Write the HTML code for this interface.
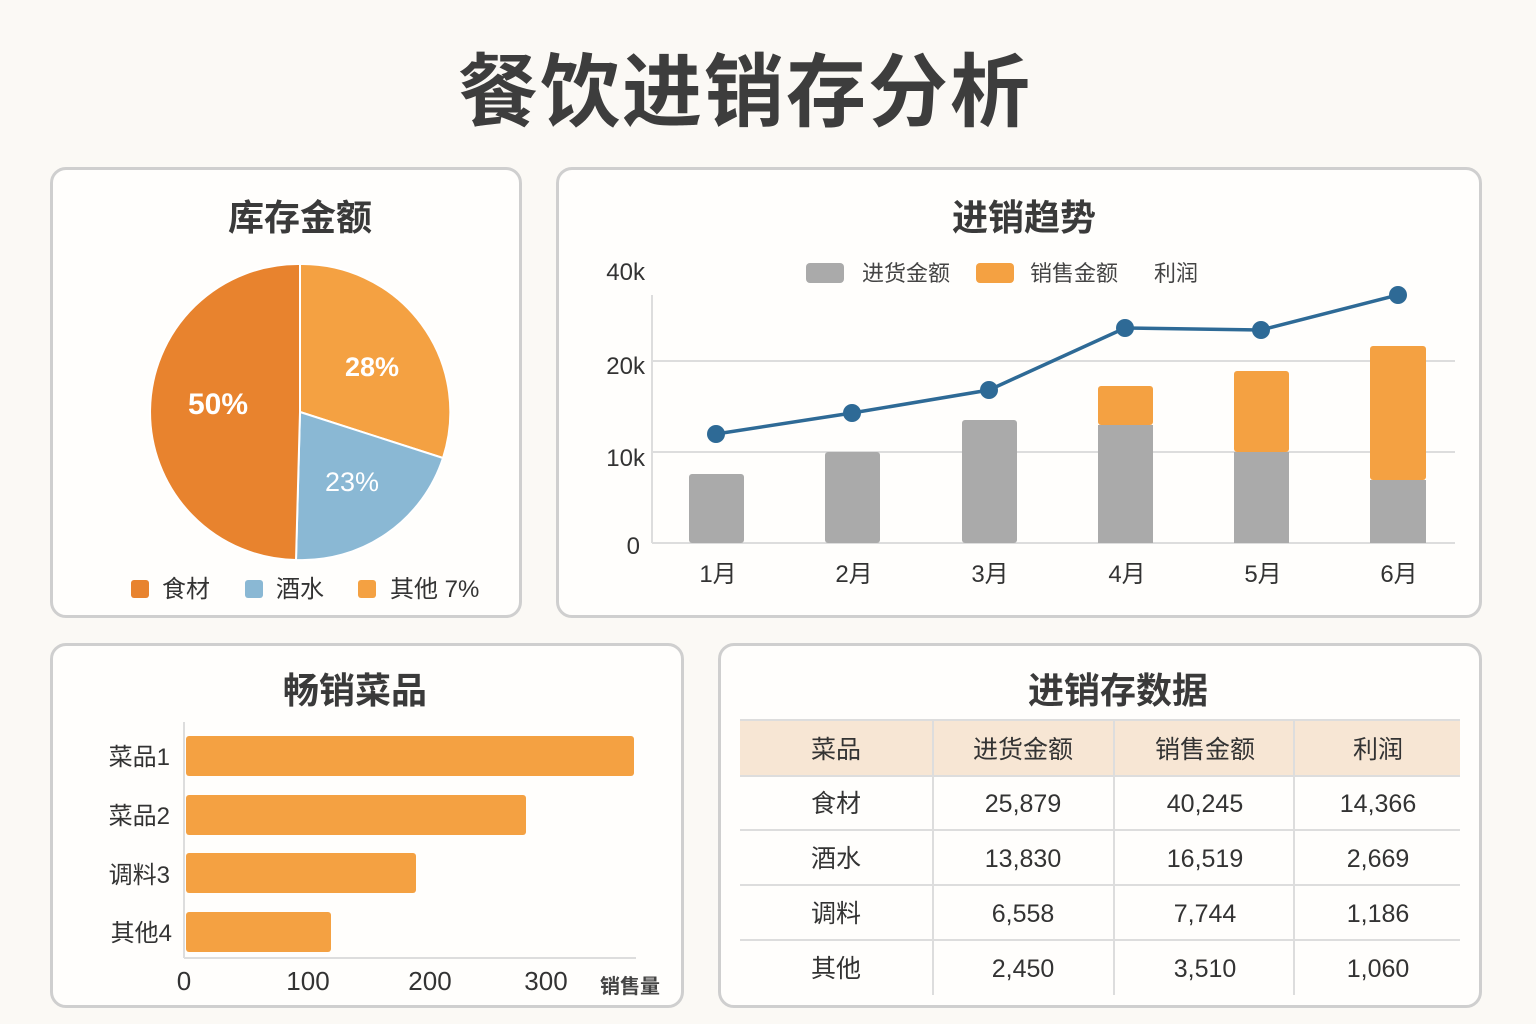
<!DOCTYPE html>
<html><head><meta charset="utf-8"><style>
body{margin:0;width:1536px;height:1024px;background:#fbf9f5;font-family:"Liberation Sans","Noto Sans CJK SC",sans-serif;color:#333;overflow:hidden;position:relative}
.p{position:absolute;border:3px solid #cfcfcf;border-radius:16px;background:#fffefc;box-sizing:border-box}
.t{position:absolute;font-weight:bold;color:#3a3a3a;white-space:nowrap}
svg{position:absolute;left:0;top:0}
</style></head><body>
<div class="t" style="left:0;width:1490px;text-align:center;top:28px;font-size:80px;letter-spacing:2px;color:#3d3d3d">餐饮进销存分析</div>
<div class="p" style="left:50px;top:167px;width:472px;height:451px"></div>
<div class="p" style="left:556px;top:167px;width:926px;height:451px"></div>
<div class="p" style="left:50px;top:643px;width:634px;height:365px"></div>
<div class="p" style="left:718px;top:643px;width:764px;height:365px"></div>
<svg width="1536" height="1024" font-family="Liberation Sans, Noto Sans CJK SC, sans-serif">
<g font-weight="bold" fill="#3a3a3a" font-size="36" text-anchor="middle">
<text x="300" y="230">库存金额</text><text x="1024" y="230">进销趋势</text>
<text x="355" y="703">畅销菜品</text><text x="1118" y="703">进销存数据</text></g>
<path d="M300,412 L300,264 A148,148 0 0,1 443,458 Z" fill="#f4a142" stroke="#fff" stroke-width="2"/>
<path d="M300,412 L443,458 A148,148 0 0,1 296,560 Z" fill="#8ab8d4" stroke="#fff" stroke-width="2"/>
<path d="M300,412 L296,560 A148,148 0 0,1 300,264 Z" fill="#e8832e" stroke="#fff" stroke-width="2"/>
<g font-weight="bold" fill="#fff" font-size="30"><text x="188" y="414">50%</text><text x="345" y="376" font-size="27">28%</text></g>
<text x="325" y="491" fill="#fff" font-size="27">23%</text>
<g font-size="24" fill="#333"><rect x="131" y="580" width="18" height="18" rx="3" fill="#e8832e"/><text x="162" y="597">食材</text>
<rect x="245" y="580" width="18" height="18" rx="3" fill="#8ab8d4"/><text x="276" y="597">酒水</text>
<rect x="358" y="580" width="18" height="18" rx="3" fill="#f4a142"/><text x="390" y="597">其他 7%</text></g>
<g stroke="#ddd" stroke-width="2"><line x1="652" y1="361" x2="1455" y2="361"/><line x1="652" y1="452" x2="1455" y2="452"/><line x1="652" y1="543" x2="1455" y2="543"/><line x1="652" y1="295" x2="652" y2="543"/></g>
<g font-size="24" fill="#333" text-anchor="end"><text x="645" y="280">40k</text><text x="645" y="374">20k</text><text x="645" y="466">10k</text><text x="640" y="554">0</text></g>
<rect x="806" y="263" width="38" height="20" rx="4" fill="#aaa"/><rect x="976" y="263" width="38" height="20" rx="4" fill="#f4a142"/>
<g font-size="22" fill="#444"><text x="862" y="281">进货金额</text><text x="1030" y="281">销售金额</text><text x="1154" y="281">利润</text></g>
<g fill="#aaa"><rect x="689" y="474" width="55" height="69" rx="3"/><rect x="825" y="452" width="55" height="91" rx="3"/><rect x="962" y="420" width="55" height="123" rx="3"/><rect x="1098" y="425" width="55" height="118"/><rect x="1234" y="452" width="55" height="91"/><rect x="1370" y="480" width="56" height="63"/></g>
<g fill="#f4a142"><rect x="1098" y="386" width="55" height="39" rx="3"/><rect x="1234" y="371" width="55" height="81" rx="3"/><rect x="1370" y="346" width="56" height="134" rx="3"/></g>
<polyline points="716,434 852,413 989,390 1125,328 1261,330 1398,295" fill="none" stroke="#2e6a96" stroke-width="3.5"/>
<g fill="#2e6a96"><circle cx="716" cy="434" r="9"/><circle cx="852" cy="413" r="9"/><circle cx="989" cy="390" r="9"/><circle cx="1125" cy="328" r="9"/><circle cx="1261" cy="330" r="9"/><circle cx="1398" cy="295" r="9"/></g>
<g font-size="24" fill="#333" text-anchor="middle"><text x="718" y="582">1月</text><text x="854" y="582">2月</text><text x="990" y="582">3月</text><text x="1127" y="582">4月</text><text x="1263" y="582">5月</text><text x="1399" y="582">6月</text></g>
<g fill="#f4a142"><rect x="186" y="736" width="448" height="40" rx="3"/><rect x="186" y="795" width="340" height="40" rx="3"/><rect x="186" y="853" width="230" height="40" rx="3"/><rect x="186" y="912" width="145" height="40" rx="3"/></g>
<g stroke="#ddd" stroke-width="2"><line x1="184" y1="722" x2="184" y2="958"/><line x1="184" y1="958" x2="636" y2="958"/></g>
<g font-size="24" fill="#333" text-anchor="end"><text x="170" y="765">菜品1</text><text x="170" y="824">菜品2</text><text x="170" y="883">调料3</text><text x="172" y="941">其他4</text></g>
<g font-size="26" fill="#333" text-anchor="middle"><text x="184" y="990">0</text><text x="308" y="990">100</text><text x="430" y="990">200</text><text x="546" y="990">300</text></g>
<text x="600" y="993" font-size="20" font-weight="bold" fill="#444">销售量</text>
<rect x="740" y="720" width="720" height="56" fill="#f7e6d4"/>
<g stroke="#ddd" stroke-width="2"><line x1="740" y1="720" x2="1460" y2="720"/><line x1="740" y1="776" x2="1460" y2="776"/><line x1="740" y1="830" x2="1460" y2="830"/><line x1="740" y1="885" x2="1460" y2="885"/><line x1="740" y1="940" x2="1460" y2="940"/>
<line x1="933" y1="720" x2="933" y2="995"/><line x1="1114" y1="720" x2="1114" y2="995"/><line x1="1294" y1="720" x2="1294" y2="995"/></g>
<g font-size="25" fill="#333" text-anchor="middle">
<text x="836" y="758">菜品</text><text x="1023" y="758">进货金额</text><text x="1205" y="758">销售金额</text><text x="1378" y="758">利润</text>
<text x="836" y="812">食材</text><text x="1023" y="812">25,879</text><text x="1205" y="812">40,245</text><text x="1378" y="812">14,366</text>
<text x="836" y="867">酒水</text><text x="1023" y="867">13,830</text><text x="1205" y="867">16,519</text><text x="1378" y="867">2,669</text>
<text x="836" y="922">调料</text><text x="1023" y="922">6,558</text><text x="1205" y="922">7,744</text><text x="1378" y="922">1,186</text>
<text x="836" y="977">其他</text><text x="1023" y="977">2,450</text><text x="1205" y="977">3,510</text><text x="1378" y="977">1,060</text></g>
</svg>
</body></html>
